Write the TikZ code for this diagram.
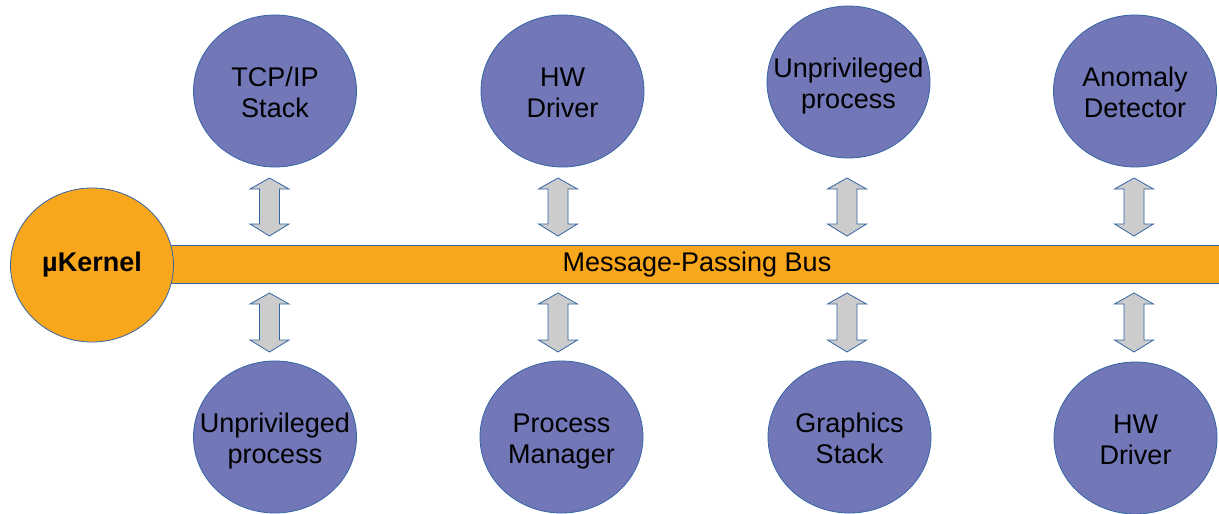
\documentclass[tikz,border=0pt]{standalone}
\usepackage{fontspec}
\setmainfont{Liberation Sans}
\definecolor{procfill}{HTML}{7277B7}
\definecolor{busfill}{HTML}{F8A61C}
\definecolor{edge}{HTML}{3465A4}
\definecolor{arrfill}{HTML}{CCCCCC}
\usetikzlibrary{shapes.geometric}
\tikzset{
  proc/.style={ellipse, draw=edge, line width=0.8pt, fill=procfill, minimum width=163pt, minimum height=152pt, inner sep=0pt},
  proctext/.style={align=center, inner sep=0pt, yshift=-4.5pt, font=\fontsize{27}{31}\selectfont},
  kern/.style={ellipse, draw=edge, line width=0.8pt, fill=busfill, minimum width=163pt, minimum height=154pt, inner sep=0pt, font=\fontsize{27}{31}\selectfont\bfseries},
  busbar/.style={draw=edge, line width=0.8pt, fill=busfill},
  blockarr/.style={draw=edge, line width=0.8pt, fill=arrfill, line join=miter}
}
\newcommand{\dblarr}[3]{%
  \draw[blockarr] (#1,#2) -- (#1+19.5,#2+11) -- (#1+10,#2+11) -- (#1+10,#3-12) -- (#1+19.5,#3-12) -- (#1,#3) -- (#1-19.5,#3-12) -- (#1-10,#3-12) -- (#1-10,#2+11) -- (#1-19.5,#2+11) -- cycle;}
\newcommand{\procnode}[4]{%
  \node[proc] (#1) at (#2) {};
  \node[proctext] (#1-t) at (#1.center) {#3\strut\\#4\strut};}
\begin{document}
\begin{tikzpicture}[x=1pt,y=-1pt]
\useasboundingbox (0,0) rectangle (1219,514);
% bus
\draw[busbar] (150,245) rectangle (1230,283);
\node[font=\fontsize{27}{31}\selectfont] (bus) at (697,265) {Message-Passing Bus};
% kernel
\node[kern] (kernel) at (92,265) {µKernel};
% top row
\procnode{tcp}{275,91}{TCP/IP}{Stack}
\procnode{hw1}{562.5,91}{HW}{Driver}
\procnode{up1}{848.5,82}{Unprivileged}{process}
\procnode{anom}{1135,91}{Anomaly}{Detector}
% bottom row
\procnode{up2}{275,437}{Unprivileged}{process}
\procnode{pm}{561.5,437}{Process}{Manager}
\procnode{gfx}{849.5,437}{Graphics}{Stack}
\procnode{hw2}{1135.5,438}{HW}{Driver}
% block arrows
\foreach \xx in {269.5,558,847,1134}{
  \dblarr{\xx}{178}{236}
  \dblarr{\xx}{293}{352}
}
\end{tikzpicture}
\end{document}
